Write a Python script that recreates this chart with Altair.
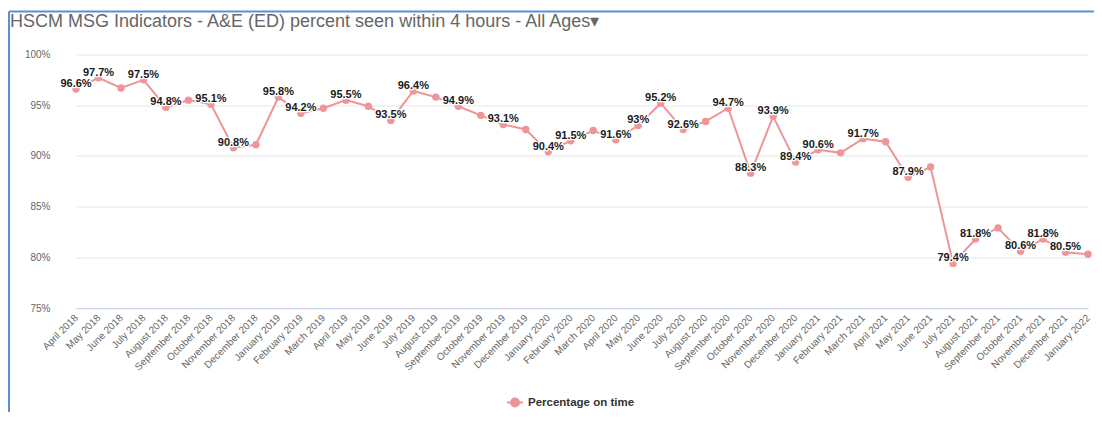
import altair as alt
import pandas as pd

months = [
    "April 2018", "May 2018", "June 2018", "July 2018", "August 2018", "September 2018",
    "October 2018", "November 2018", "December 2018", "January 2019", "February 2019",
    "March 2019", "April 2019", "May 2019", "June 2019", "July 2019", "August 2019",
    "September 2019", "October 2019", "November 2019", "December 2019", "January 2020",
    "February 2020", "March 2020", "April 2020", "May 2020", "June 2020", "July 2020",
    "August 2020", "September 2020", "October 2020", "November 2020", "December 2020",
    "January 2021", "February 2021", "March 2021", "April 2021", "May 2021", "June 2021",
    "July 2021", "August 2021", "September 2021", "October 2021", "November 2021",
    "December 2021", "January 2022",
]
values = [
    96.6, 97.7, 96.7, 97.5, 94.8, 95.5, 95.1, 90.8, 91.1, 95.8, 94.2, 94.7, 95.5, 94.9,
    93.5, 96.4, 95.8, 94.9, 94.0, 93.1, 92.6, 90.4, 91.5, 92.5, 91.6, 93.0, 95.2, 92.6,
    93.4, 94.7, 88.3, 93.9, 89.4, 90.6, 90.3, 91.7, 91.4, 87.9, 88.9, 79.4, 81.8, 82.9,
    80.6, 81.8, 80.5, 80.3,
]
# 1 = data label visible in the reference
shown = [
    1, 1, 0, 1, 1, 0, 1, 1, 0, 1, 1, 0, 1, 0, 1, 1, 0, 1, 0, 1, 0, 1, 1, 0, 1, 1, 1, 1,
    0, 1, 1, 1, 1, 1, 0, 1, 0, 1, 0, 1, 1, 0, 1, 1, 1, 0,
]
series_name = "Percentage on time"
title_text = "HSCM MSG Indicators - A&E (ED) percent seen within 4 hours - All Ages\u25be"

df = pd.DataFrame({
    "month": months,
    "value": values,
    "label": [f"{v:g}%" if s else "" for v, s in zip(values, shown)],
    "series": series_name,
})

FONT = "Liberation Sans"
PINK = "#ee9599"
BLUE = "#5a8fd6"
W, H = 1031, 253.5

x = alt.X(
    "month:N", sort=None, title=None,
    scale=alt.Scale(type="point", range=[13, 1025], padding=0),
    axis=alt.Axis(labelAngle=-45, ticks=False, labelFontSize=10, labelColor="#666666",
                  labelFont=FONT, domainColor="#ccd6eb", labelPadding=8,
                  labelBaseline="middle", labelAlign="right", grid=False),
)
y = alt.Y(
    "value:Q", title=None,
    scale=alt.Scale(domain=[75, 100], nice=False, zero=False),
    axis=alt.Axis(values=[75, 80, 85, 90, 95, 100], labelExpr="datum.value + '%'",
                  domain=False, ticks=False, labelPadding=13, labelFontSize=10,
                  labelColor="#666666", labelFont=FONT, gridColor="#e6e6e6"),
)
color_leg = alt.Color(
    "series:N", scale=alt.Scale(range=[PINK]), title=None,
    legend=alt.Legend(
        orient="none", legendX=443, legendY=339, padding=0,
        symbolType="M-1,0L1,0M-0.5,0A0.5,0.5,0,1,1,0.5,0A0.5,0.5,0,1,1,-0.5,0Z",
        symbolSize=256, symbolStrokeColor=PINK, symbolFillColor=PINK, symbolStrokeWidth=2,
        labelFont=FONT, labelFontSize=11.5, labelFontWeight="bold", labelColor="#333333",
        labelOffset=4,
    ),
)

base = alt.Chart(df)
line = base.mark_line(strokeWidth=2, color=PINK).encode(x=x, y=y)
points = base.mark_point(filled=True, size=55, opacity=1).encode(x=x, y=y, color=color_leg)
halo = base.mark_text(font=FONT, fontSize=11, fontWeight="bold", dy=-5,
                      fill="white", stroke="white", strokeWidth=2.5,
                      strokeJoin="round").encode(x=x, y=y, text="label:N")
labels = base.mark_text(font=FONT, fontSize=11, fontWeight="bold", dy=-5,
                        color="#1a1a1a").encode(x=x, y=y, text="label:N")

one = alt.Data(values=[{}])
title = alt.Chart(one).mark_text(
    text=title_text, font=FONT, fontSize=18, color="#666666", align="left",
    baseline="alphabetic").encode(x=alt.value(-53), y=alt.value(-27.5))
frame_top = alt.Chart(one).mark_rule(color=BLUE, strokeWidth=2).encode(
    x=alt.value(-54), x2=alt.value(W), y=alt.value(-43))
frame_left = alt.Chart(one).mark_rule(color=BLUE, strokeWidth=2).encode(
    x=alt.value(-54), y=alt.value(-43), y2=alt.value(360))

chart = alt.layer(frame_top, frame_left, title, line, points, halo, labels).properties(
    width=W, height=H,
    autosize=alt.AutoSizeParams(type="none"),
    padding={"left": 55, "top": 46.5, "right": 0, "bottom": 104},
    background="white",
).configure_view(stroke=None)

chart.save("out.html", embed_options={"renderer": "svg", "actions": False})
